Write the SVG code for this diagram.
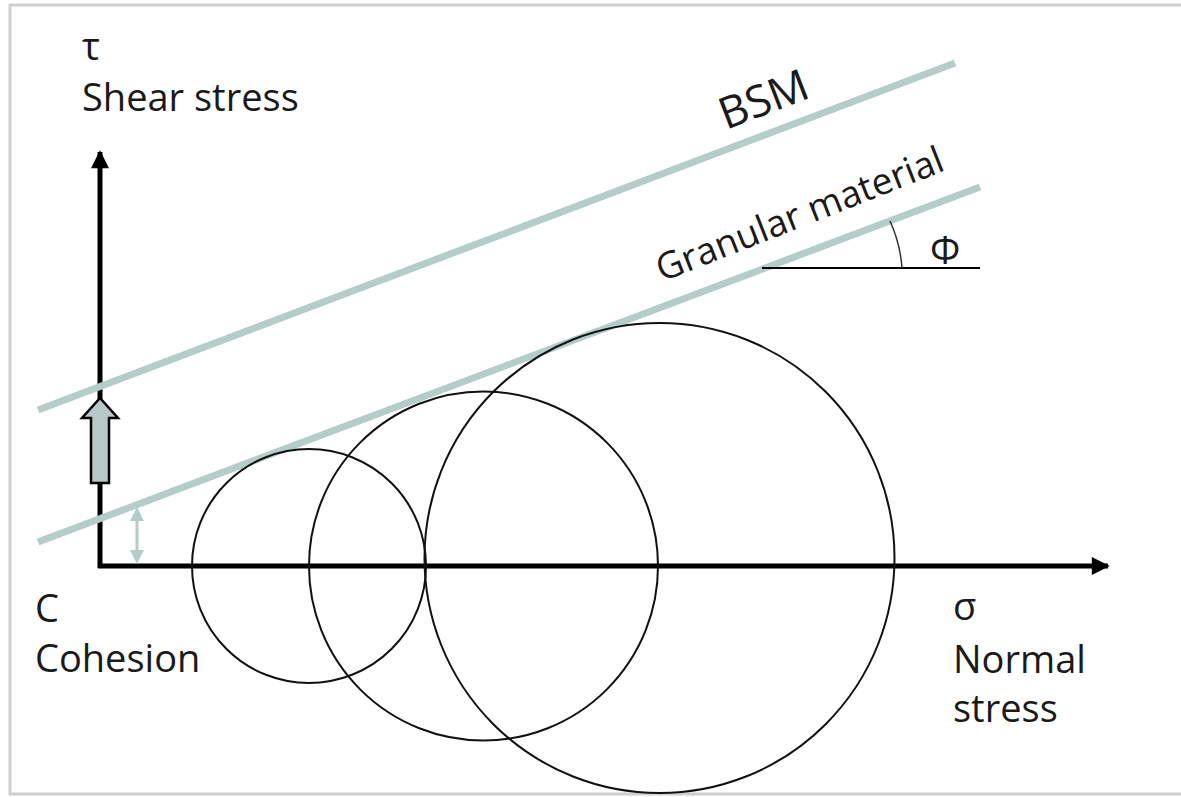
<svg xmlns="http://www.w3.org/2000/svg" width="1181" height="797" viewBox="0 0 1181 797">
<defs>
<style>
.txt{font-family:"Open Sans","Noto Sans",sans-serif;fill:#1a1a1a}
.env{stroke:#b5cdc9;stroke-width:7;fill:none}
.circ{stroke:#111;stroke-width:2;fill:none}
.axis{stroke:#000;stroke-width:5;fill:none}
</style>
<marker id="ah" viewBox="0 0 10 10" refX="9" refY="5" markerWidth="4" markerHeight="3.6" orient="auto" markerUnits="strokeWidth">
<path d="M0,0 L10,5 L0,10 z" fill="#000"/>
</marker>
</defs>
<rect x="0" y="0" width="1181" height="797" fill="#fff"/>
<rect id="frame" x="10" y="5" width="1190" height="789" fill="none" stroke="#cfcfcf" stroke-width="3"/>

<g id="connectors">
<line class="axis" x1="100" y1="568" x2="100" y2="152" marker-end="url(#ah)"/>
<line class="axis" x1="98" y1="566" x2="1108" y2="566" marker-end="url(#ah)"/>
<line id="bsm-line" class="env" x1="38" y1="410" x2="955" y2="63"/>
<line id="granular-line" class="env" x1="38" y1="542" x2="980" y2="187"/>
<g id="cohesion-arrow" fill="#b5cdc9" stroke="none">
<rect x="135.5" y="519" width="3" height="34"/>
<path d="M137,507 L144,521 L130,521 z"/>
<path d="M137,564 L144,550 L130,550 z"/>
</g>
<path id="shift-arrow" d="M100,398 L118,418 L109,418 L109,483 L91,483 L91,418 L82,418 z" fill="#b5c9c6" stroke="#000" stroke-width="2.5" stroke-linejoin="miter"/>
<line id="phi-base" x1="762" y1="268" x2="980" y2="268" stroke="#000" stroke-width="2"/>
<path id="phi-arc" d="M890,221 A137,137 0 0 1 902,268" fill="none" stroke="#333" stroke-width="1.5"/>
</g>

<g id="circle1"><circle class="circ" cx="309" cy="566" r="117"/></g>
<g id="circle2"><circle class="circ" cx="483.5" cy="566" r="174.5"/></g>
<g id="circle3"><circle class="circ" cx="659.5" cy="558" r="235"/></g>

<g id="label-tau">
<text class="txt" x="82" y="60" font-size="38">τ</text>
<text class="txt" x="82" y="111" font-size="38">Shear stress</text>
</g>
<g id="label-cohesion">
<text class="txt" x="35" y="622" font-size="38">C</text>
<text class="txt" x="35" y="672" font-size="38">Cohesion</text>
</g>
<g id="label-sigma">
<text class="txt" x="953" y="620" font-size="38">σ</text>
<text class="txt" x="953" y="673" font-size="38">Normal</text>
<text class="txt" x="953" y="722" font-size="38">stress</text>
</g>
<g id="label-bsm">
<text class="txt" font-size="44" transform="translate(726,130) rotate(-21)">BSM</text>
</g>
<g id="label-granular">
<text class="txt" font-size="37" transform="translate(662,282) rotate(-21.5)">Granular material</text>
</g>
<g id="label-phi">
<text class="txt" x="930" y="264" font-size="38">Φ</text>
</g>
</svg>
